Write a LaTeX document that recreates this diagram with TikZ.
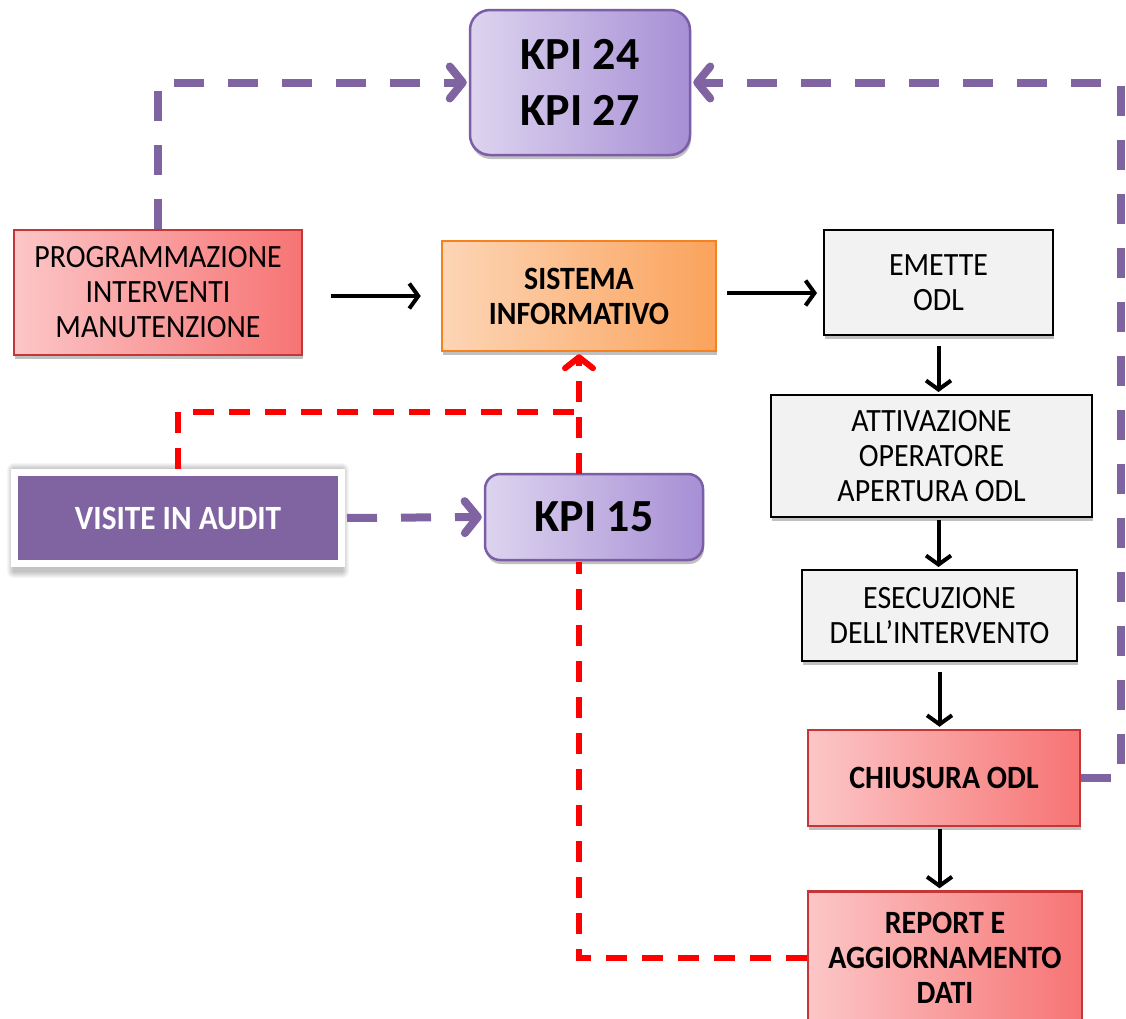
\documentclass[tikz,border=0pt]{standalone}
\usepackage{fontspec}
\setmainfont{Carlito}
\newfontfamily\boxfont{Carlito}[FakeStretch=0.92]
\usetikzlibrary{arrows.meta,shadows,calc}

\definecolor{purpleLine}{HTML}{8064A2}
\definecolor{kpiL}{HTML}{DDD4EF}
\definecolor{kpiR}{HTML}{A78FD5}
\definecolor{kpiB}{HTML}{7B5EA6}
\definecolor{redL}{HTML}{FCC6C7}
\definecolor{redR}{HTML}{F77474}
\definecolor{redB}{HTML}{C53636}
\definecolor{orL}{HTML}{FDD5B6}
\definecolor{orR}{HTML}{FAA35C}
\definecolor{orB}{HTML}{F58220}
\definecolor{lgray}{HTML}{F2F2F2}
\definecolor{dashRed}{HTML}{FF0000}

\tikzset{
  shade/.style={drop shadow={shadow xshift=1pt, shadow yshift=-4pt, opacity=0.35, fill=black!70}},
  box/.style={align=center, inner sep=0pt, font=\boxfont\fontsize{32.5}{35}\selectfont},
  boldtext/.style={font=\boxfont\fontsize{32.5}{35}\selectfont\bfseries},
  kpitext/.style={font=\fontsize{46}{56}\selectfont\bfseries},
  graybox/.style={box, shade, fill=lgray, draw=black, line width=2pt},
  redbox/.style={box, shade, left color=redL, right color=redR, draw=redB, line width=2.5pt},
  orangebox/.style={box, shade, left color=orL, right color=orR, draw=orB, line width=2.5pt},
  kpibox/.style={box, shade, left color=kpiL, right color=kpiR, draw=kpiB, line width=2.5pt},
  auditbox/.style={box, fill=purpleLine, draw=white, line width=7pt, text=white,
    font=\boxfont\fontsize{34}{38}\selectfont\bfseries},
  flow/.style={line width=4pt, black, -{Straight Barb[length=9pt,width=25pt]}},
  kpilink/.style={line width=8pt, purpleLine, dash pattern=on 30pt off 24pt},
  kpiarrow/.style={kpilink, -{Straight Barb[length=13pt,width=32pt,round]}},
  auditlink/.style={line width=6pt, dashRed, dash pattern=on 21pt off 15pt},
  auditarrow/.style={auditlink, -{Straight Barb[length=11pt,width=28pt,round]}}
}

\begin{document}
\begin{tikzpicture}[x=1pt, y=-1pt]
  \useasboundingbox (0,0) rectangle (1126,1018);
  \fill[white] (0,0) rectangle (1126,1018);
  \clip (0,0) rectangle (1126,1018);

  % soft halo under the white-framed audit box
  \foreach \d in {1,...,7}{
    \fill[black, opacity=0.035, rounded corners=\d pt]
      (14-\d, 468-\d+2) rectangle (342+\d, 568+\d+3);
  }

  % boxes
  \node[kpibox, kpitext, rounded corners=20pt, minimum width=220pt, minimum height=145pt]
        (kpiA) at (580,82.5) {KPI 24\\KPI 27};
  \node[redbox, minimum width=288pt, minimum height=125pt] (prog) at (158,292.5)
        {PROGRAMMAZIONE\\INTERVENTI\\MANUTENZIONE};
  \node[orangebox, boldtext, minimum width=274pt, minimum height=110pt]
        (sis) at (579,296) {SISTEMA\\INFORMATIVO};
  \node[graybox, minimum width=229pt, minimum height=105pt] (emette) at (938.5,282.5) {EMETTE\\ODL};
  \node[graybox, minimum width=321pt, minimum height=122pt] (attiv) at (931.5,456)
        {ATTIVAZIONE\\OPERATORE\\APERTURA ODL};
  \node[graybox, minimum width=275pt, minimum height=91pt] (esec) at (939.5,615.5)
        {ESECUZIONE\\DELL’INTERVENTO};
  \node[redbox, boldtext, minimum width=272pt, minimum height=96pt]
        (chius) at (944,778) {CHIUSURA ODL};
  \node[redbox, boldtext, minimum width=274pt, minimum height=133pt]
        (report) at (945,958) {REPORT E\\AGGIORNAMENTO\\DATI};
  \node[auditbox, minimum width=327pt, minimum height=91pt]
        (audit) at (178,518) {VISITE IN AUDIT};
  \node[kpibox, kpitext, rounded corners=15pt, minimum width=218pt, minimum height=86pt]
        (kpiB) at (594,517) {KPI 15};

  % junction points of the red audit lines
  \coordinate (redTop) at (579,412);
  \coordinate (redUp) at (579,474);
  \coordinate (redDown) at (579,562);

  % main flow
  \draw[flow, shorten <=28pt, shorten >=20pt] (prog.east |- sis.west) -- (sis.west);
  \draw[flow, shorten <=10pt, shorten >=6pt] ([yshift=3pt]sis.east) -- ([yshift=3pt]sis.east -| emette.west);
  \draw[flow, shorten <=10pt, shorten >=2pt] (emette.south) -- (emette.south |- attiv.north);
  \draw[flow, shorten <=2pt, shorten >=2pt] (emette.south |- attiv.south) -- (emette.south |- esec.north);
  \draw[flow, shorten <=10pt, shorten >=2pt] (esec.south) -- (esec.south |- chius.north);
  \draw[flow, shorten <=2pt, shorten >=2pt] (esec.south |- chius.south) -- (esec.south |- report.north);

  % KPI links
  \draw[kpiarrow, shorten >=2pt] (prog.north) |- (kpiA.west);
  \draw[kpiarrow, shorten >=2pt] (chius.east) -- ++(40,0) |- (kpiA.east);
  \draw[kpiarrow, shorten <=2pt, shorten >=2pt] (audit.east) -- (kpiB.west);

  % audit links
  \draw[auditlink] (audit.north) |- (redTop);
  \draw[auditarrow, shorten >=2pt] (redUp) -- (sis.south);
  \draw[auditlink] (report.west) -| (redDown);
\end{tikzpicture}
\end{document}
